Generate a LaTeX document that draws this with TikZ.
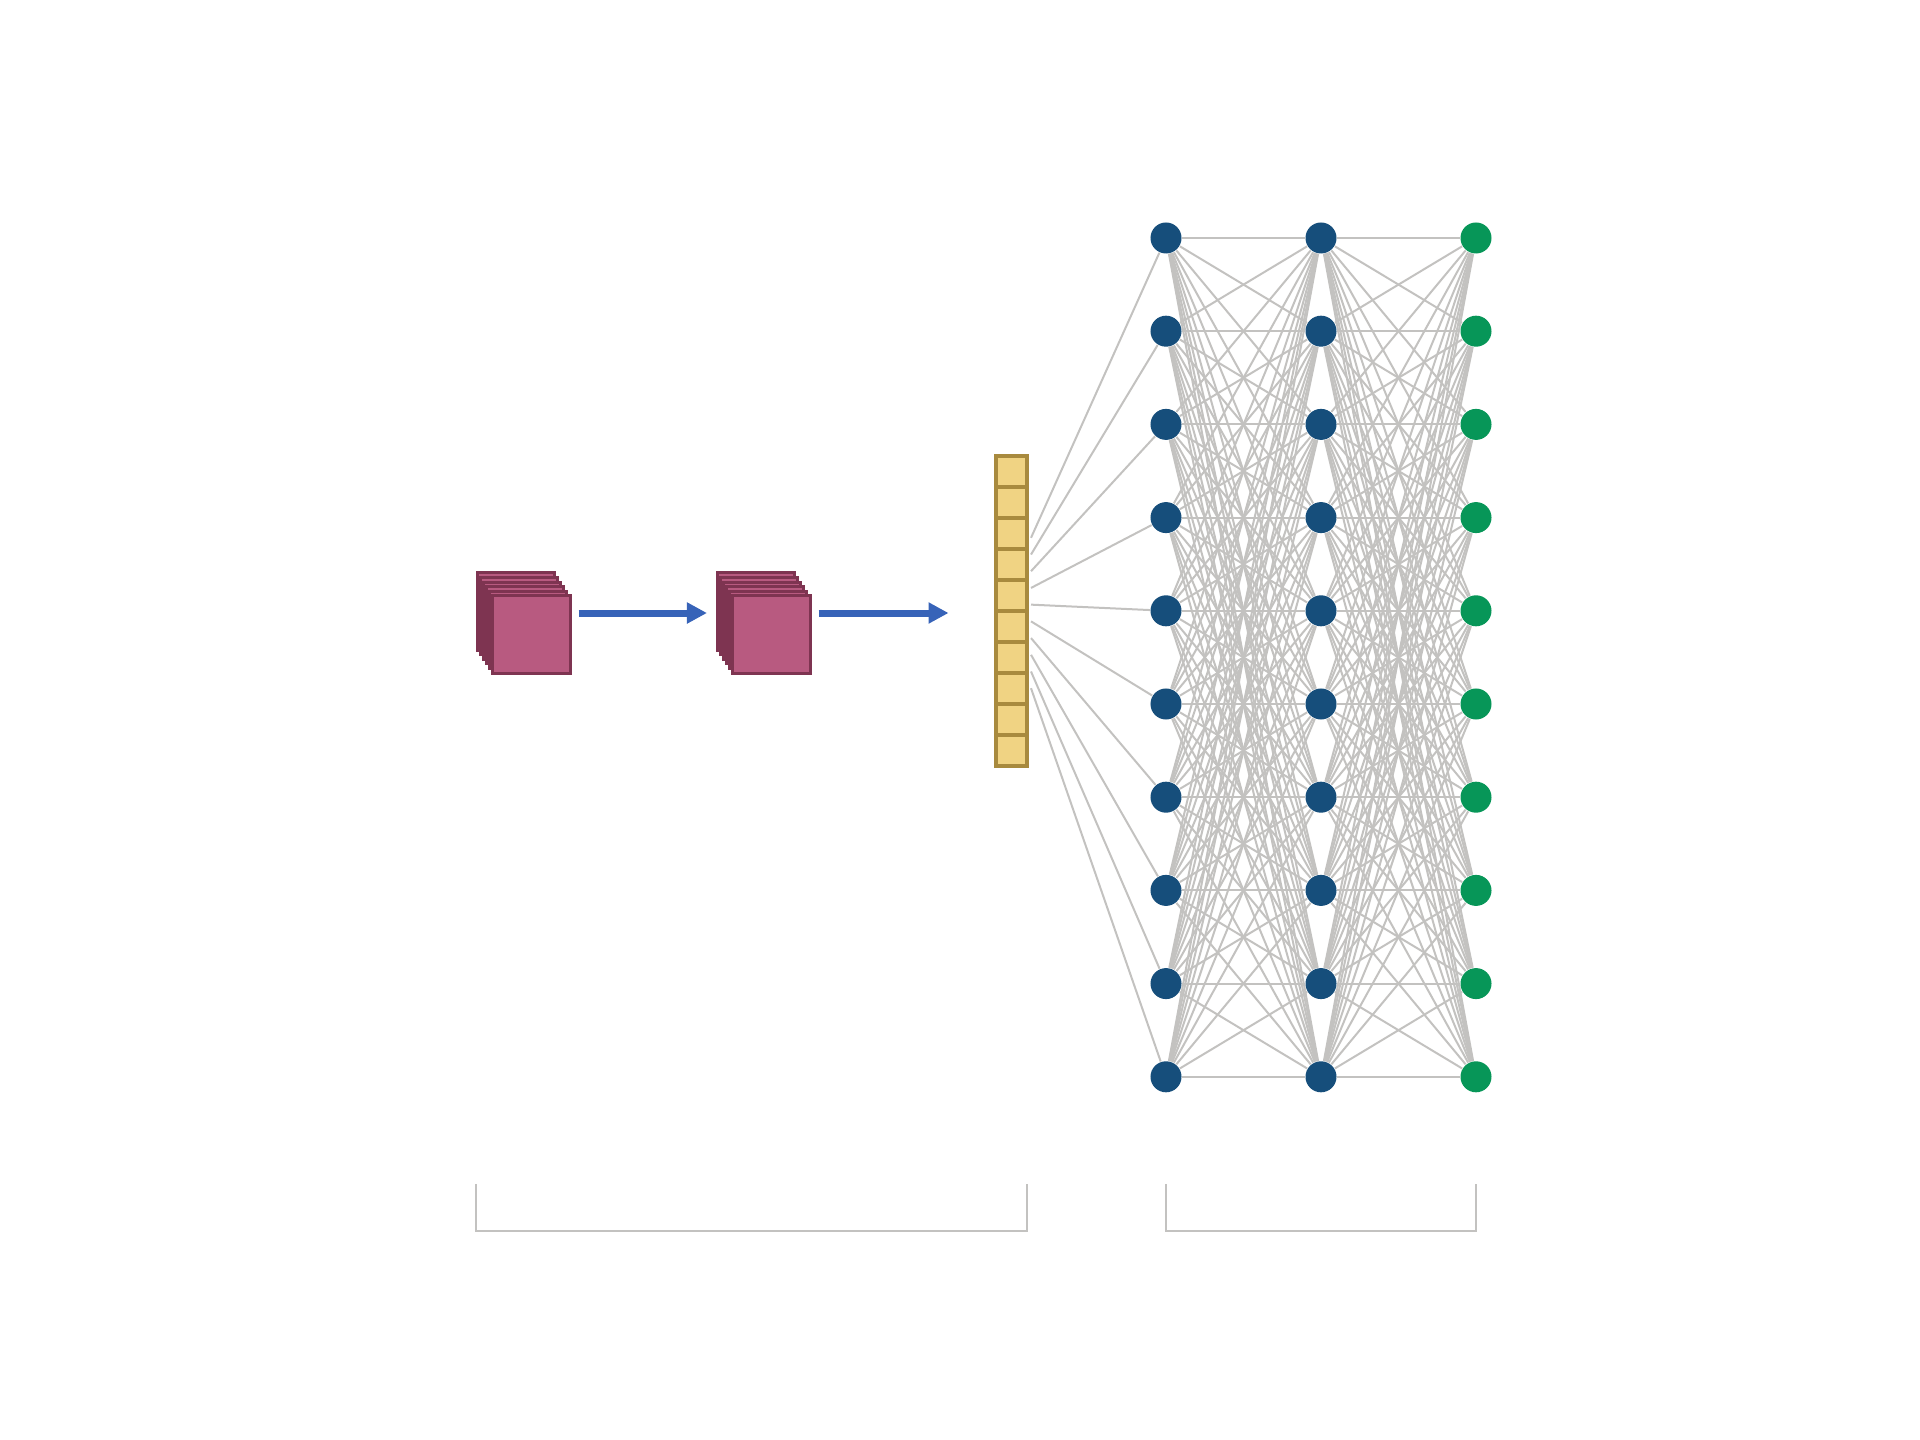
\documentclass[tikz,border=0pt]{standalone}
\usepackage{tikz}
\usetikzlibrary{arrows.meta, positioning, backgrounds}

\definecolor{mapfill}{HTML}{B85A80}
\definecolor{mapdraw}{HTML}{7E3451}
\definecolor{cellfill}{HTML}{F0D383}
\definecolor{celldraw}{HTML}{A88A3E}
\definecolor{hidblue}{HTML}{164E7B}
\definecolor{outgreen}{HTML}{079658}
\definecolor{linkgray}{HTML}{C3C2C0}
\definecolor{flowblue}{HTML}{3763B8}

\begin{document}
\begin{tikzpicture}[
  x=0.01cm, y=-0.01cm,
  fmap/.style={
    rectangle, draw=mapdraw, fill=mapfill,
    line width=0.03cm, minimum size=0.77cm, inner sep=0pt
  },
  cell/.style={
    rectangle, draw=celldraw, fill=cellfill,
    line width=0.04cm, minimum width=0.31cm, minimum height=0.31cm, inner sep=0pt
  },
  hidnode/.style={circle, fill=hidblue, minimum size=0.31cm, inner sep=0pt},
  outnode/.style={circle, fill=outgreen, minimum size=0.31cm, inner sep=0pt},
  link/.style={draw=linkgray, line width=0.02cm},
  flow/.style={-{Triangle[length=0.2cm, width=0.2cm]}, draw=flowblue, line width=0.07cm},
  bracket/.style={draw=linkgray, line width=0.02cm}
]
\useasboundingbox (0,0) rectangle (1920,1440);

% Mapas de caracteristicas
\foreach \k in {0,...,5} {
  \node[fmap] (a\k) at (516+3.1*\k, 611.5+4.6*\k) {};
}
\foreach \k in {0,...,5} {
  \node[fmap] (b\k) at (756+3.1*\k, 611.5+4.6*\k) {};
}

% Vector aplanado
\foreach \i in {0,...,9} {
  \node[cell] (c\i) at (1011.5, 471.5+31*\i) {};
}

% Capas densas
\foreach \i in {0,...,9} {
  \node[hidnode] (h\i) at (1166, 238+93.2*\i) {};
  \node[hidnode] (g\i) at (1321, 238+93.2*\i) {};
  \node[outnode] (o\i) at (1476, 238+93.2*\i) {};
}

% Flechas
\draw[flow] ([xshift=0.07cm]a5.east |- c4.south) -- ([xshift=-0.09cm]b0.west |- c4.south);
\draw[flow] ([xshift=0.07cm]b5.east |- c4.south) -- ++(130,0);

% Conexiones
\begin{scope}[on background layer]
  \foreach \i [evaluate=\i as \dy using (4.5-\i)*0.167] in {0,...,9} {
    \draw[link] ([xshift=0.02cm, yshift=\dy cm]c4.south east) -- (h\i);
  }
  \foreach \i in {0,...,9} {
    \foreach \j in {0,...,9} {
      \draw[link] (h\i) -- (g\j);
      \draw[link] (g\i) -- (o\j);
    }
  }
\end{scope}

% Corchetes
\coordinate (bl1) at (476,1184);
\coordinate (br1) at (1027,1184);
\coordinate (bl2) at (1166,1184);
\coordinate (br2) at (1476,1184);
\draw[bracket] (bl1) -- ++(0,46.6) -| (br1);
\draw[bracket] (bl2) -- ++(0,46.6) -| (br2);

\end{tikzpicture}
\end{document}
